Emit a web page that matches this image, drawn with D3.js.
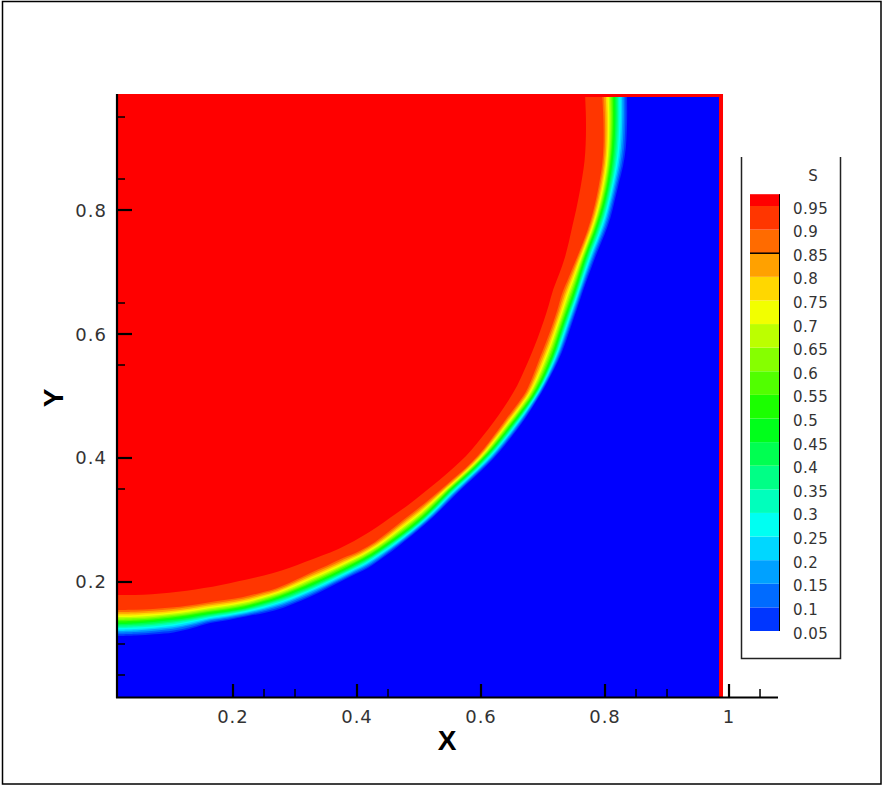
<!DOCTYPE html>
<html><head><meta charset="utf-8">
<script src="https://cdn.jsdelivr.net/npm/d3@7"></script>
<style>body{margin:0;background:#fff} svg{display:block}</style>
</head><body>
<svg id="c" width="883" height="786"></svg>
<script>
// ---------------- data ----------------
const xMajorTicks = [0.2, 0.4, 0.6, 0.8, 1];
const xMajorLabels = ["0.2", "0.4", "0.6", "0.8", "1"];
const xMinorTicks = [0.25, 0.3, 0.45, 0.85, 0.9, 1.05];
const yMajorTicks = [0.2, 0.4, 0.6, 0.8];
const yMajorLabels = ["0.2", "0.4", "0.6", "0.8"];
const yMinorTicks = [0.05, 0.1, 0.35, 0.55, 0.65, 0.85, 0.95];

const legendLevels = [0.05,0.1,0.15,0.2,0.25,0.3,0.35,0.4,0.45,0.5,0.55,0.6,0.65,0.7,0.75,0.8,0.85,0.9,0.95];
const legendLabels = ["0.05","0.1","0.15","0.2","0.25","0.3","0.35","0.4","0.45","0.5","0.55","0.6","0.65","0.7","0.75","0.8","0.85","0.9","0.95"];
const legendLineLevel = 0.85;

// field extent
const fieldX = [0.0129, 0.9887];
const fieldY = [0.0145, 0.9855];

// contour S = 0.95 (red edge)
const c95X = [0.0129,0.1097,0.1629,0.2161,0.2710,0.3242,0.3774,0.4177,0.4484,0.5129,0.5742,0.6194,0.6548,0.6790,0.7000,0.7161,0.7355,0.7484,0.7597,0.7677,0.7677];
const c95Y = [0.1790,0.1839,0.1919,0.2032,0.2161,0.2355,0.2565,0.2790,0.3000,0.3484,0.4016,0.4565,0.5097,0.5629,0.6177,0.6710,0.7242,0.7790,0.8323,0.8855,0.9855];
// contour S = 0.9
const c90X = [0.0129,0.1097,0.1629,0.2161,0.2710,0.3242,0.3774,0.4177,0.4742,0.5339,0.5935,0.6355,0.6742,0.6952,0.7161,0.7323,0.7548,0.7758,0.7887,0.7968,0.7952];
const c90Y = [0.1548,0.1597,0.1677,0.1758,0.1903,0.2145,0.2387,0.2565,0.3000,0.3484,0.4016,0.4565,0.5097,0.5629,0.6177,0.6710,0.7242,0.7790,0.8323,0.8855,0.9855];
// contour S = 0.5
const c50X = [0.0129,0.1097,0.1629,0.2161,0.2710,0.3242,0.3774,0.4177,0.5016,0.5500,0.6065,0.6516,0.6903,0.7145,0.7323,0.7516,0.7677,0.7887,0.8032,0.8113,0.8145];
const c50Y = [0.1339,0.1419,0.1500,0.1581,0.1742,0.1952,0.2194,0.2403,0.3000,0.3484,0.4016,0.4565,0.5097,0.5629,0.6177,0.6710,0.7242,0.7790,0.8323,0.8855,0.9855];
// contour S = 0.05 (blue edge)
const c05X = [0.0129,0.1097,0.1629,0.2161,0.2710,0.3242,0.3774,0.4177,0.5177,0.5661,0.6226,0.6661,0.7000,0.7274,0.7468,0.7645,0.7839,0.8065,0.8194,0.8323,0.8355];
const c05Y = [0.1129,0.1194,0.1339,0.1435,0.1548,0.1758,0.2032,0.2226,0.3000,0.3484,0.4016,0.4565,0.5097,0.5629,0.6177,0.6710,0.7242,0.7790,0.8323,0.8855,0.9855];

// position of intermediate levels across the front (read from a cross-section)
const upperLevels = [0.85, 0.8, 0.75, 0.7, 0.65, 0.6, 0.55];          // between S=0.9 and S=0.5
const upperFrac   = [0.15, 0.30, 0.43, 0.55, 0.67, 0.78, 0.89];
const lowerLevels = [0.45, 0.4, 0.35, 0.3, 0.25, 0.2, 0.15, 0.1];     // between S=0.5 and S=0.05
const lowerFrac   = [0.10, 0.20, 0.30, 0.40, 0.51, 0.62, 0.74, 0.87];

const rainbowStops = ["#0000ff", "#00ffff", "#00ff00", "#ffff00", "#ff0000"];

// ---------------- drawing ----------------
const svg = d3.select("#c");
const x = d3.scaleLinear().domain([0.0129, 1.079]).range([117, 778]);
const y = d3.scaleLinear().domain([0.0145, 0.9855]).range([697, 95]);
const rainbow = d3.scaleLinear().domain([0, 0.25, 0.5, 0.75, 1]).range(rainbowStops).interpolate(d3.interpolateRgb);
const nBands = legendLevels.length + 1; // 20
const bandColor = k => rainbow(k / (nBands - 1));
const levelBand = L => Math.round(L / 0.05);

// outer frame
svg.append("rect").attr("x", 2.5).attr("y", 1.5).attr("width", 878.5).attr("height", 782.5)
  .attr("fill", "none").attr("stroke", "#000").attr("stroke-width", 1.5);

// clip
svg.append("clipPath").attr("id", "fc").append("rect")
  .attr("x", x(fieldX[0])).attr("y", y(fieldY[1]))
  .attr("width", x(fieldX[1]) - x(fieldX[0])).attr("height", y(fieldY[0]) - y(fieldY[1]));
const field = svg.append("g").attr("clip-path", "url(#fc)");

field.append("rect")
  .attr("x", x(fieldX[0])).attr("y", y(fieldY[1]))
  .attr("width", x(fieldX[1]) - x(fieldX[0])).attr("height", y(fieldY[0]) - y(fieldY[1]))
  .attr("fill", bandColor(0));

const cx = x(fieldX[0]), cy = y(fieldY[1]);
function toPolar(xs, ys) {
  return xs.map((v, i) => {
    const px = x(v) - cx, py = y(ys[i]) - cy;
    return {a: Math.atan2(px, py), r: Math.hypot(px, py)};
  }).sort((p, q) => p.a - q.a);
}
function rAt(pol, a) {
  if (a <= pol[0].a) return pol[0].r;
  for (let i = 1; i < pol.length; i++) {
    if (a <= pol[i].a) {
      const t = (a - pol[i-1].a) / (pol[i].a - pol[i-1].a);
      return pol[i-1].r + t * (pol[i].r - pol[i-1].r);
    }
  }
  return pol[pol.length - 1].r;
}
const p95 = toPolar(c95X, c95Y), p90 = toPolar(c90X, c90Y), p50 = toPolar(c50X, c50Y), p05 = toPolar(c05X, c05Y);
const angles = d3.range(0, 90.01, 2).map(d => d * Math.PI / 180);

// contour radius functions per level
const contourDefs = [];
contourDefs.push({L: 0.05, r: a => rAt(p05, a)});
lowerLevels.forEach((L, i) => {
  const f = lowerFrac[i];
  contourDefs.push({L, r: a => { const r5 = rAt(p50, a), r0 = rAt(p05, a); return r5 + f * (r0 - r5); }});
});
contourDefs.push({L: 0.5, r: a => rAt(p50, a)});
upperLevels.forEach((L, i) => {
  const f = upperFrac[i];
  contourDefs.push({L, r: a => { const r9 = rAt(p90, a), r5 = rAt(p50, a); return r9 + f * (r5 - r9); }});
});
contourDefs.push({L: 0.9, r: a => rAt(p90, a)});
contourDefs.push({L: 0.95, r: a => rAt(p95, a)});
contourDefs.sort((a, b) => a.L - b.L);

const line = d3.line().curve(d3.curveCatmullRom.alpha(0.5));
contourDefs.forEach(c => {
  const pts = angles.map(a => { const r = c.r(a); return [cx + r * Math.sin(a), cy + r * Math.cos(a)]; });
  pts[0][0] = cx - 2; pts[pts.length - 1][1] = cy - 2;
  const d = "M" + (cx - 2) + "," + (cy - 2) + "L" + line(pts).slice(1) + "Z";
  field.append("path").attr("d", d).attr("fill", bandColor(levelBand(c.L)));
});

// boundary cells (S = 1) along top and right edges
svg.append("rect").attr("x", x(fieldX[0])).attr("y", y(fieldY[1]) - 1)
  .attr("width", x(fieldX[1]) - x(fieldX[0]) + 1).attr("height", 3).attr("fill", bandColor(19));
svg.append("rect").attr("x", x(fieldX[1]) - 3).attr("y", y(fieldY[1]) - 1)
  .attr("width", 4).attr("height", y(fieldY[0]) - y(fieldY[1]) + 1).attr("fill", bandColor(19));

// axes
const axisG = svg.append("g").attr("stroke", "#000");
axisG.append("line").attr("x1", 117).attr("x2", 117).attr("y1", 94).attr("y2", 698).attr("stroke-width", 2.2);
axisG.append("line").attr("x1", 116).attr("x2", 778).attr("y1", 697.5).attr("y2", 697.5).attr("stroke-width", 2.2);
xMajorTicks.forEach(v => axisG.append("line").attr("x1", x(v)).attr("x2", x(v)).attr("y1", 697).attr("y2", 684).attr("stroke-width", 2.2));
xMinorTicks.forEach(v => axisG.append("line").attr("x1", x(v)).attr("x2", x(v)).attr("y1", 697).attr("y2", 689).attr("stroke-width", 1.5));
yMajorTicks.forEach(v => axisG.append("line").attr("x1", 117).attr("x2", 132).attr("y1", y(v)).attr("y2", y(v)).attr("stroke-width", 2.2));
yMinorTicks.forEach(v => axisG.append("line").attr("x1", 117).attr("x2", 125).attr("y1", y(v)).attr("y2", y(v)).attr("stroke-width", 1.5));

const tickFont = "'DejaVu Sans', sans-serif";
xMajorTicks.forEach((v, i) => svg.append("text").attr("x", x(v)).attr("y", 723)
  .attr("text-anchor", "middle").attr("font-family", tickFont).attr("font-size", 18)
  .attr("letter-spacing", 1).attr("fill", "#333").text(xMajorLabels[i]));
yMajorTicks.forEach((v, i) => svg.append("text").attr("x", 107).attr("y", y(v) + 6.5)
  .attr("text-anchor", "end").attr("font-family", tickFont).attr("font-size", 18)
  .attr("letter-spacing", 1).attr("fill", "#333").text(yMajorLabels[i]));

svg.append("text").attr("x", 447).attr("y", 750).attr("text-anchor", "middle")
  .attr("font-family", "'Liberation Sans', Arial, sans-serif").attr("font-weight", "bold")
  .attr("font-size", 28).attr("fill", "#000").text("X");
svg.append("text").attr("transform", "translate(63,398) rotate(-90)").attr("text-anchor", "middle")
  .attr("font-family", "'Liberation Sans', Arial, sans-serif").attr("font-weight", "bold")
  .attr("font-size", 28).attr("fill", "#000").text("Y");

// legend
const ly = d3.scaleLinear().domain([0.05, 0.95]).range([631, 206]);
const leg = svg.append("g");
leg.append("path").attr("d", "M741.5,157V658.5H840.5V157").attr("fill", "none").attr("stroke", "#222").attr("stroke-width", 1.5);
leg.append("text").attr("x", 813).attr("y", 181).attr("text-anchor", "middle")
  .attr("font-family", tickFont).attr("font-size", 15).attr("fill", "#333").text("S");
legendLevels.forEach((L, i) => {
  const top = i < legendLevels.length - 1 ? legendLevels[i + 1] : L + 0.025;
  leg.append("rect").attr("x", 750).attr("width", 30)
    .attr("y", ly(top)).attr("height", ly(L) - ly(top))
    .attr("fill", bandColor(levelBand(L)));
});
leg.append("line").attr("x1", 779.5).attr("x2", 779.5).attr("y1", ly(0.975)).attr("y2", ly(0.05))
  .attr("stroke", "#000").attr("stroke-width", 1);
leg.append("line").attr("x1", 750).attr("x2", 780).attr("y1", ly(legendLineLevel)).attr("y2", ly(legendLineLevel))
  .attr("stroke", "#000").attr("stroke-width", 1.5);
legendLevels.forEach((L, i) => leg.append("text").attr("x", 793).attr("y", ly(L) + 7.5)
  .attr("font-family", tickFont).attr("font-size", 15).attr("letter-spacing", 0.5)
  .attr("fill", "#333").text(legendLabels[i]));
</script>
</body></html>
